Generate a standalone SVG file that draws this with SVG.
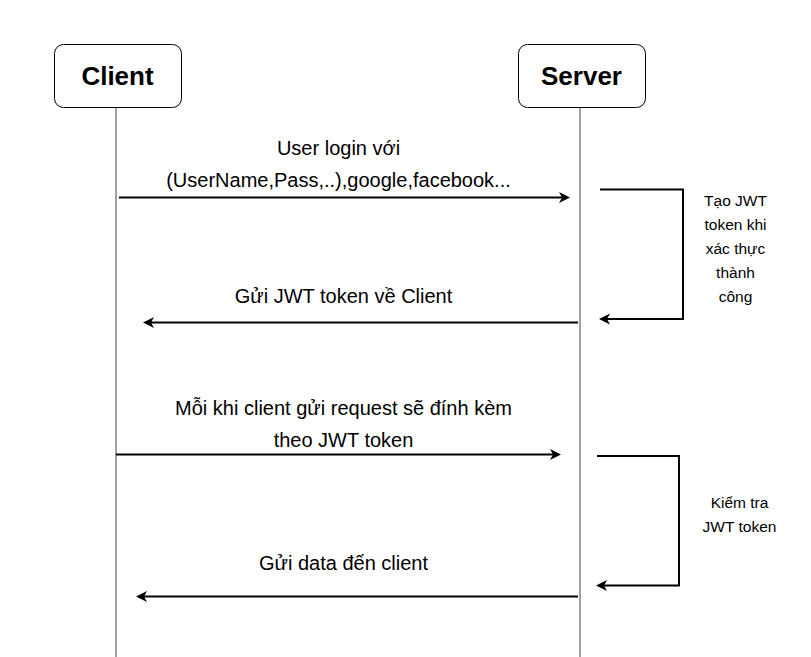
<svg xmlns="http://www.w3.org/2000/svg" width="811" height="657" viewBox="0 0 811 657">
<defs>
<marker id="arr" markerUnits="userSpaceOnUse" markerWidth="12" markerHeight="12" refX="3" refY="5.5" orient="auto" overflow="visible">
<path d="M0,0 L11,5.5 L0,11 L3,5.5 Z" fill="#000"/>
</marker>
<style>
.box{fill:#fff;stroke:#000;stroke-width:1}
.life{stroke:#444;stroke-width:1;fill:none}
.msg{stroke:#000;stroke-width:2;fill:none;marker-end:url(#arr)}
.title{font-family:"Liberation Sans",Arial,sans-serif;font-weight:bold;font-size:26px;text-anchor:middle;fill:#000}
.lbl{font-family:"Liberation Sans",Arial,sans-serif;font-size:20px;text-anchor:middle;fill:#000}
.note{font-family:"Liberation Sans",Arial,sans-serif;font-size:15.5px;text-anchor:middle;fill:#000}
</style>
</defs>
<rect width="811" height="657" fill="#fff"/>
<g id="client">
<line class="life" x1="116" y1="107" x2="116" y2="657"/>
<rect class="box" x="54.5" y="44.5" width="127" height="63" rx="9" ry="9"/>
<text class="title" x="117.5" y="85">Client</text>
</g>
<g id="server">
<line class="life" x1="580" y1="107" x2="580" y2="657"/>
<rect class="box" x="518.5" y="44.5" width="127" height="63" rx="9" ry="9"/>
<text class="title" x="581.5" y="85">Server</text>
</g>
<g id="connectors">
<path class="msg" d="M119,197.5 L562,197.5"/>
<path class="msg" d="M600,189.5 L683,189.5 L683,319 L607,319"/>
<path class="msg" d="M578,322.5 L151,322.5"/>
<path class="msg" d="M116,454.5 L553,454.5"/>
<path class="msg" d="M597,456 L679,456 L679,585.5 L604,585.5"/>
<path class="msg" d="M578,596.5 L144,596.5"/>
</g>
<g id="labels">
<text class="lbl" x="338.5" y="155">User login với</text>
<text class="lbl" x="338.5" y="187">(UserName,Pass,..),google,facebook...</text>
<text class="lbl" x="343.5" y="303">Gửi JWT token về Client</text>
<text class="lbl" x="343.5" y="415">Mỗi khi client gửi request sẽ đính kèm</text>
<text class="lbl" x="343.5" y="447">theo JWT token</text>
<text class="lbl" x="343.5" y="570">Gửi data đến client</text>
<text class="note" x="735.5" y="206">Tạo JWT</text>
<text class="note" x="735.5" y="230">token khi</text>
<text class="note" x="735.5" y="254">xác thực</text>
<text class="note" x="735.5" y="278">thành</text>
<text class="note" x="735.5" y="302">công</text>
<text class="note" x="739.5" y="508">Kiểm tra</text>
<text class="note" x="739.5" y="532">JWT token</text>
</g>
</svg>
